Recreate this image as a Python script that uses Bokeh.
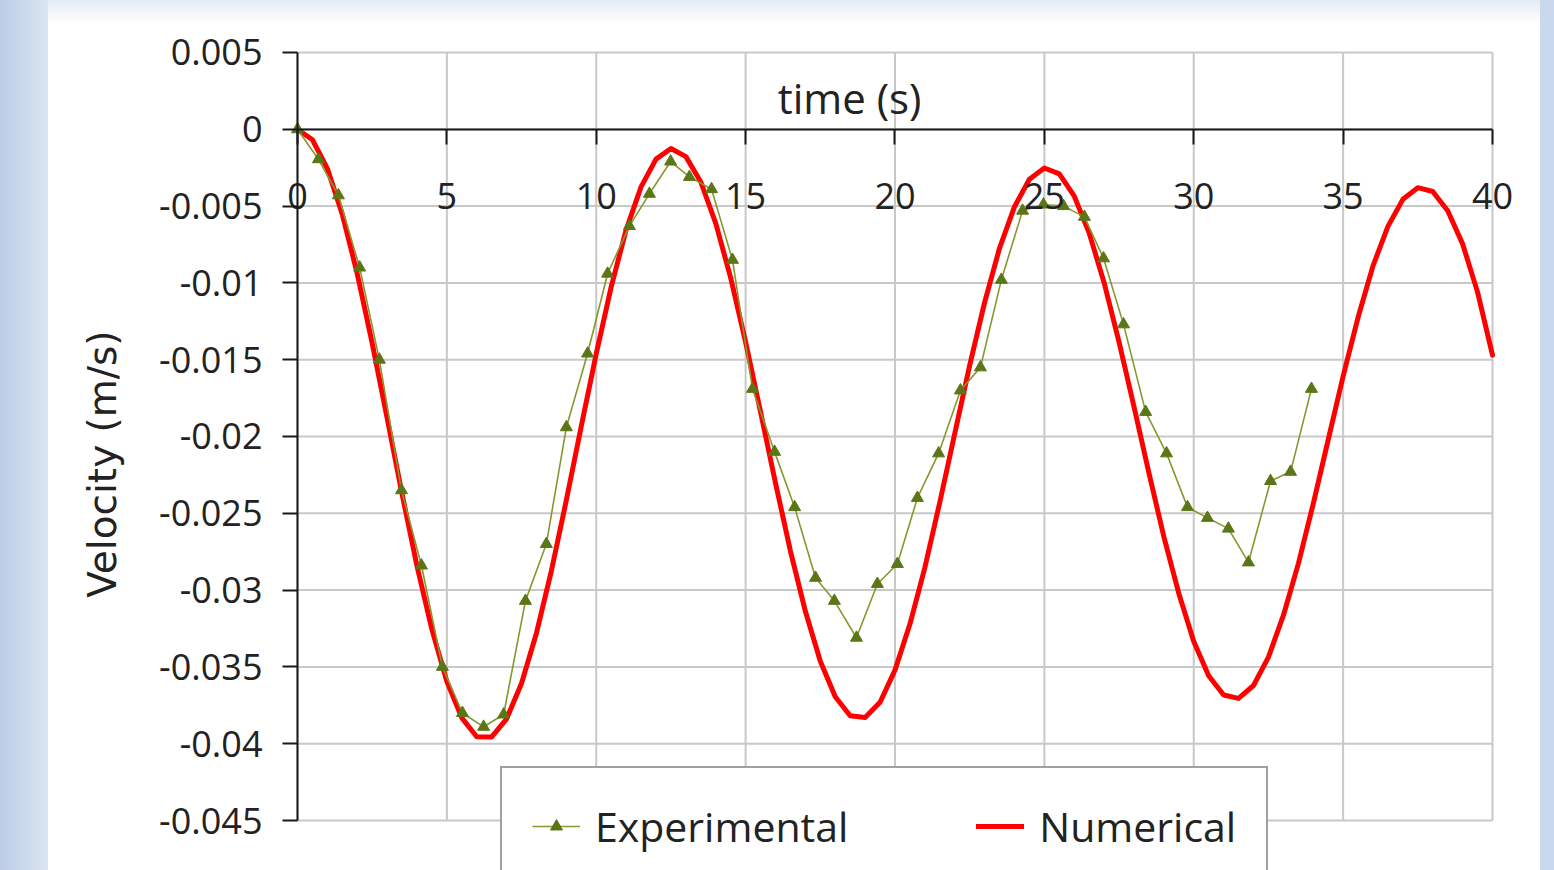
import math
from bokeh.plotting import figure
from bokeh.models import Range1d, FixedTicker, Legend, LegendItem, Label
from bokeh.embed import file_html
from bokeh.resources import INLINE

# ---------------- data ----------------
exp_time = [0.00, 0.70, 1.37, 2.08, 2.74, 3.48, 4.15, 4.85, 5.52, 6.23,
            6.90, 7.63, 8.33, 9.00, 9.71, 10.38, 11.11, 11.78, 12.49, 13.12,
            13.86, 14.56, 15.23, 15.97, 16.64, 17.34, 17.97, 18.71, 19.41, 20.08,
            20.75, 21.46, 22.19, 22.86, 23.56, 24.27, 24.97, 25.64, 26.34, 26.98,
            27.65, 28.39, 29.09, 29.79, 30.46, 31.16, 31.83, 32.57, 33.24, 33.94]
exp_velocity = [0.0, -0.00195, -0.0043, -0.0090, -0.0150, -0.0235, -0.0284, -0.0350, -0.0380, -0.0389,
                -0.0381, -0.0307, -0.0270, -0.0194, -0.0146, -0.0094, -0.0063, -0.0042, -0.0021, -0.0031,
                -0.0039, -0.0085, -0.0169, -0.0210, -0.0246, -0.0292, -0.0307, -0.0331, -0.0296, -0.0283,
                -0.0240, -0.0211, -0.0170, -0.0155, -0.0098, -0.0053, -0.0049, -0.0050, -0.0057, -0.0084,
                -0.0127, -0.0184, -0.0211, -0.0246, -0.0253, -0.0260, -0.0282, -0.0229, -0.0223, -0.0169]

num_time = [0.0, 0.5, 1.0, 1.5, 2.0, 2.5, 3.0, 3.5, 4.0, 4.5,
            5.0, 5.5, 6.0, 6.5, 7.0, 7.5, 8.0, 8.5, 9.0, 9.5,
            10.0, 10.5, 11.0, 11.5, 12.0, 12.5, 13.0, 13.5, 14.0, 14.5,
            15.0, 15.5, 16.0, 16.5, 17.0, 17.5, 18.0, 18.5, 19.0, 19.5,
            20.0, 20.5, 21.0, 21.5, 22.0, 22.5, 23.0, 23.5, 24.0, 24.5,
            25.0, 25.5, 26.0, 26.5, 27.0, 27.5, 28.0, 28.5, 29.0, 29.5,
            30.0, 30.5, 31.0, 31.5, 32.0, 32.5, 33.0, 33.5, 34.0, 34.5,
            35.0, 35.5, 36.0, 36.5, 37.0, 37.5, 38.0, 38.5, 39.0, 39.5, 40.0]
num_velocity = [0.0, -0.00068, -0.00256, -0.00554, -0.00940, -0.01392, -0.01880, -0.02374, -0.02843, -0.03257,
                -0.03596, -0.03832, -0.03955, -0.03956, -0.03838, -0.03607, -0.03279, -0.02873, -0.02414, -0.01932,
                -0.01461, -0.01026, -0.00655, -0.00375, -0.00194, -0.00125, -0.00178, -0.00343, -0.00613, -0.00967,
                -0.01386, -0.01840, -0.02303, -0.02746, -0.03138, -0.03463, -0.03694, -0.03818, -0.03830, -0.03730,
                -0.03521, -0.03221, -0.02853, -0.02428, -0.01980, -0.01537, -0.01127, -0.00773, -0.00504, -0.00325,
                -0.00252, -0.00290, -0.00435, -0.00676, -0.00999, -0.01385, -0.01806, -0.02238, -0.02653, -0.03022,
                -0.03334, -0.03558, -0.03683, -0.03705, -0.03621, -0.03436, -0.03165, -0.02829, -0.02438, -0.02022,
                -0.01608, -0.01224, -0.00889, -0.00632, -0.00456, -0.00380, -0.00405, -0.00530, -0.00746, -0.01060,
                -0.01470]

x_ticks = [0, 5, 10, 15, 20, 25, 30, 35, 40]
y_ticks = [0.005, 0.0, -0.005, -0.01, -0.015, -0.02, -0.025, -0.03, -0.035, -0.04, -0.045]
y_tick_labels = ["0.005", "0", "-0.005", "-0.01", "-0.015", "-0.02", "-0.025",
                 "-0.03", "-0.035", "-0.04", "-0.045"]

series_names = ["Experimental", "Numerical"]
x_title = "time (s)"
y_title = "Velocity (m/s)"

x_min, x_max = x_ticks[0], x_ticks[-1]
y_min, y_max = y_ticks[-1], y_ticks[0]

# ---------------- figure ----------------
# the frame fills the whole canvas; the axes are pinned inside it
p = figure(width=1554, height=870, output_backend="svg", toolbar_location=None,
           x_range=Range1d(-9.9414, 42.0753), y_range=Range1d(-0.0482552, 0.0083854),
           min_border_left=0, min_border_right=0, min_border_top=0, min_border_bottom=0)
p.styles = {"background": "linear-gradient(to right, #bccde6 0px, #dbe5f2 48px, rgba(255,255,255,0) 48px, "
                          "rgba(255,255,255,0) 1540px, #c9d8ec 1540px), "
                          "linear-gradient(to bottom, #e3ebf6 0px, #ffffff 24px)"}
p.border_fill_color = None
p.background_fill_color = None
p.outline_line_color = None
p.xgrid.visible = False
p.ygrid.visible = False

# grid lines at the tick values, limited to the axis extents
grid_color = "#c8c8c8"
p.segment(x0=x_ticks, y0=[y_min] * len(x_ticks), x1=x_ticks, y1=[y_max] * len(x_ticks),
          line_color=grid_color, line_width=2)
p.segment(x0=[x_min] * len(y_ticks), y0=y_ticks, x1=[x_max] * len(y_ticks), y1=y_ticks,
          line_color=grid_color, line_width=2)

# x axis crossing at v = 0
xa = p.xaxis[0]
xa.fixed_location = 0
xa.bounds = (x_min, x_max)
xa.ticker = FixedTicker(ticks=x_ticks)
xa.axis_line_color = "#1a1a1a"
xa.axis_line_width = 2
xa.major_tick_line_color = "#1a1a1a"
xa.major_tick_line_width = 2
xa.major_tick_in = 0
xa.major_tick_out = 15
xa.minor_tick_line_color = None
xa.major_label_standoff = 39
xa.major_label_text_font = "Open Sans"
xa.major_label_text_font_size = "36px"
xa.major_label_text_color = "#222222"

# y axis at t = 0
ya = p.yaxis[0]
ya.fixed_location = 0
ya.bounds = (y_min, y_max)
ya.ticker = FixedTicker(ticks=y_ticks)
ya.major_label_overrides = {v: s for v, s in zip(y_ticks, y_tick_labels)}
ya.axis_line_color = "#1a1a1a"
ya.axis_line_width = 2
ya.major_tick_line_color = "#1a1a1a"
ya.major_tick_line_width = 2
ya.major_tick_in = 0
ya.major_tick_out = 15
ya.minor_tick_line_color = None
ya.major_label_standoff = 20
ya.major_label_text_font = "Open Sans"
ya.major_label_text_font_size = "36px"
ya.major_label_text_color = "#222222"

# ---------------- series ----------------
num_line = p.line(num_time, num_velocity, line_color="#ff0000", line_width=5,
                  line_join="round", line_cap="round")
exp_line = p.line(exp_time, exp_velocity, line_color="#86982e", line_width=1.6)
exp_pts = p.scatter(exp_time, exp_velocity, marker="triangle", size=12,
                    fill_color="#5b7616", line_color="#5b7616")

# ---------------- titles ----------------
p.add_layout(Label(x=18.48, y=0.00205, text=x_title, text_font="Open Sans",
                   text_font_size="42px", text_align="center", text_baseline="middle",
                   text_color="#222222"))
p.add_layout(Label(x=-6.52, y=-0.0218, text=y_title, text_font="DejaVu Sans",
                   text_font_size="39px", text_align="center", text_baseline="middle",
                   angle=math.pi / 2, text_color="#222222"))

# ---------------- legend ----------------
legend = Legend(items=[LegendItem(label=series_names[0], renderers=[exp_line, exp_pts]),
                       LegendItem(label=series_names[1], renderers=[num_line])],
                orientation="horizontal", location=(500, -16), padding=30, spacing=128,
                glyph_width=48, glyph_height=30, label_standoff=15, margin=0,
                label_text_font="Open Sans", label_text_font_size="41px",
                label_text_color="#222222",
                border_line_color="#404040", border_line_width=2,
                background_fill_color="white", background_fill_alpha=1.0)
p.add_layout(legend)

open("out.html", "w").write(file_html(p, INLINE))
